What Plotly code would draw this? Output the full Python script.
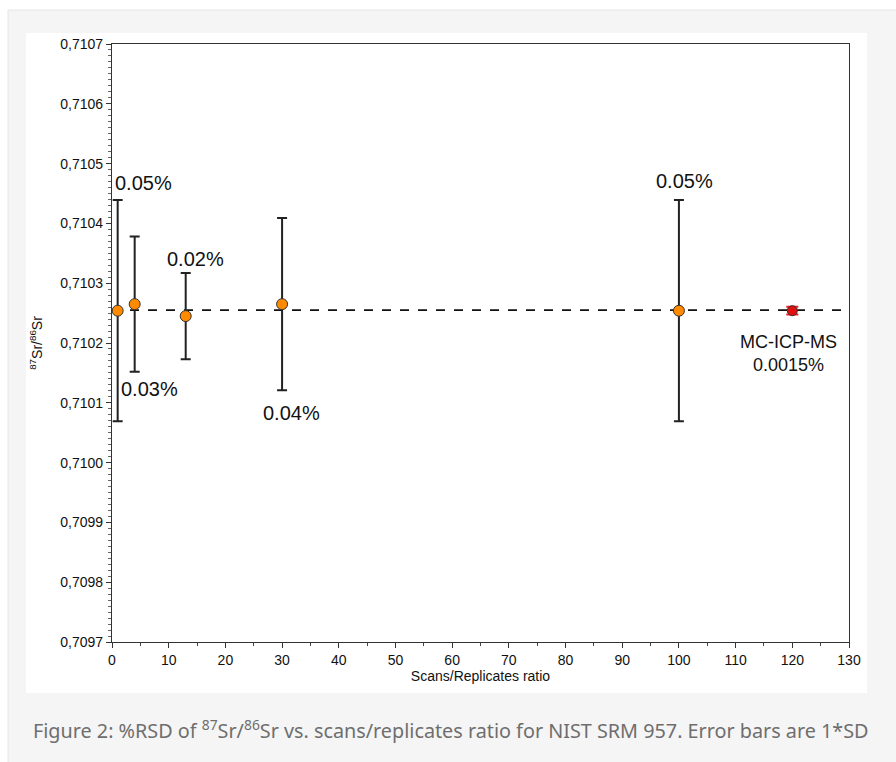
import plotly.graph_objects as go

# ---- data ----
scan_ratio = [1, 4, 13, 30, 100]
sr_ratio = [0.710254, 0.710265, 0.710245, 0.710265, 0.710254]
sr_sd = [0.000185, 0.000113, 0.000072, 0.000144, 0.000185]
rsd_labels = ["0.05%", "0.03%", "0.02%", "0.04%", "0.05%"]

mc_x = [120]
mc_y = [0.710254]
mc_sd = [0.0000065]
mc_label = "MC-ICP-MS<br>0.0015%"

ref_value = 0.710255
x_range = [0, 130]
y_range = [0.7097, 0.7107]

W, H = 896, 762
ML, MR, MT, MB = 112, 47, 44, 120
PW, PH = W - ML - MR, H - MT - MB


def px(xp):
    return (xp - ML) / PW


def py(yp):
    return 1 - (yp - MT) / PH


fig = go.Figure()

# reference dashed line
fig.add_trace(go.Scatter(
    x=x_range, y=[ref_value, ref_value], mode="lines",
    line=dict(color="#111111", width=1.6, dash="dash"),
    hoverinfo="skip", showlegend=False, cliponaxis=False))

fig.add_trace(go.Scatter(
    x=scan_ratio, y=sr_ratio, mode="markers",
    marker=dict(color="#ff8a00", size=11, line=dict(color="#333333", width=1)),
    error_y=dict(type="data", array=sr_sd, visible=True, color="#222222",
                 thickness=2, width=5),
    showlegend=False, cliponaxis=False))

fig.add_trace(go.Scatter(
    x=mc_x, y=mc_y, mode="markers",
    marker=dict(color="#e01010", size=10, line=dict(color="#333333", width=1)),
    error_y=dict(type="data", array=mc_sd, visible=True, color="#ee2020",
                 thickness=2, width=6),
    showlegend=False, cliponaxis=False))

afont = dict(family="Liberation Sans, Arial, sans-serif", size=20, color="#111111")
# label placements (data coordinates, text centre)
label_pos = [
    (0.2, 0.710468, "left"),
    (6.7, 0.710123, "center"),
    (14.76, 0.71034, "center"),
    (31.6, 0.710083, "center"),
    (101.0, 0.710471, "center"),
]
for (lx, ly, xa), t in zip(label_pos, rsd_labels):
    fig.add_annotation(x=lx, y=ly, text=t, showarrow=False, xanchor=xa,
                       yanchor="middle", font=afont)

fig.add_annotation(x=119.4, y=0.710183, text=mc_label, showarrow=False,
                   xanchor="center", yanchor="middle",
                   font=dict(family="Liberation Sans, Arial, sans-serif",
                             size=18, color="#111111"))

# caption
fig.add_annotation(
    x=px(451), y=py(729), xref="paper", yref="paper", showarrow=False,
    text="Figure 2: %RSD of <sup>87</sup>Sr/<sup>86</sup>Sr vs. scans/replicates ratio for NIST SRM 957. Error bars are 1*SD",
    font=dict(family="Noto Sans, Open Sans, sans-serif", size=19.8, color="#6e6e6e"),
    xanchor="center", yanchor="middle")

shapes = [
    dict(type="rect", xref="paper", yref="paper", layer="below",
         x0=px(8), x1=px(897), y0=py(10), y1=py(763),
         fillcolor="#f5f5f5", line=dict(color="#e6e6e6", width=1)),
    dict(type="rect", xref="paper", yref="paper", layer="below",
         x0=px(26), x1=px(867), y0=py(33), y1=py(693),
         fillcolor="#ffffff", line=dict(width=0)),
]

tickfont = dict(family="Liberation Sans, Arial, sans-serif", size=14, color="#111111")

fig.update_layout(
    width=W, height=H,
    margin=dict(l=ML, r=MR, t=MT, b=MB),
    paper_bgcolor="#ffffff", plot_bgcolor="rgba(0,0,0,0)",
    separators=", ",
    shapes=shapes,
    showlegend=False,
    xaxis=dict(
        range=x_range, dtick=10, tick0=0, showgrid=False, zeroline=False,
        showline=True, linecolor="#333333", linewidth=1.3, mirror=True,
        ticks="outside", ticklen=5, tickcolor="#333333",
        minor=dict(dtick=5, ticks="outside", ticklen=3, tickcolor="#444444", showgrid=False),
        tickfont=tickfont,
        title=dict(text="Scans/Replicates ratio", standoff=4,
                   font=dict(family="Liberation Sans, Arial, sans-serif", size=14, color="#111111")),
    ),
    yaxis=dict(
        range=y_range, dtick=0.0001, tick0=0.7097, tickformat=".4f",
        showgrid=False, zeroline=False,
        showline=True, linecolor="#333333", linewidth=1.3, mirror=True,
        ticks="outside", ticklen=5, tickcolor="#333333",
        minor=dict(dtick=0.00001, ticks="outside", ticklen=3, tickcolor="#666666", showgrid=False),
        tickfont=tickfont,
        title=dict(text="<sup>87</sup>Sr/<sup>86</sup>Sr", standoff=14,
                   font=dict(family="Liberation Sans, Arial, sans-serif", size=14, color="#111111")),
    ),
)

fig.write_html("out.html", config={"displayModeBar": False},
               post_script="document.body.style.margin='0';")
